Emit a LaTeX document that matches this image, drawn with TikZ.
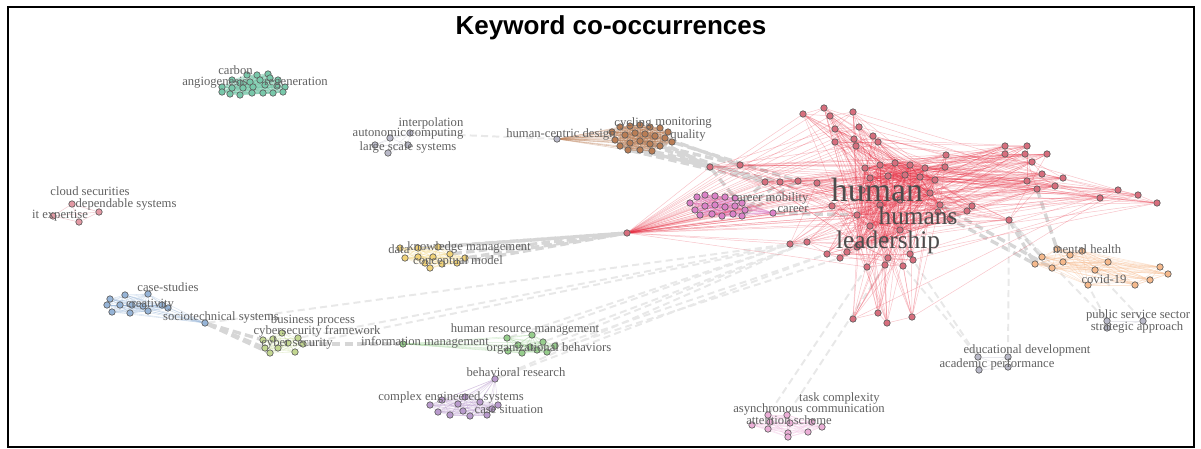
\documentclass[tikz,border=0pt]{standalone}
\usepackage{fontspec}
\setmainfont{Liberation Serif}
\newfontfamily\titlefont{Liberation Sans}
\usetikzlibrary{positioning}
\pgfdeclarelayer{background}
\pgfsetlayers{background,main}

\definecolor{tealfill}{RGB}{120,200,170}
\definecolor{brownfill}{RGB}{185,125,85}
\definecolor{pinkfill}{RGB}{220,130,200}
\definecolor{yellowfill}{RGB}{240,210,120}
\definecolor{bluefill}{RGB}{150,180,215}
\definecolor{limefill}{RGB}{195,215,145}
\definecolor{greenfill}{RGB}{150,205,140}
\definecolor{purplefill}{RGB}{185,155,205}
\definecolor{rosefill}{RGB}{235,175,215}
\definecolor{orangefill}{RGB}{245,185,140}
\definecolor{grayfill}{RGB}{185,185,200}
\definecolor{redfill}{RGB}{215,110,125}
\definecolor{rededge}{RGB}{228,40,60}

\begin{document}
\begin{tikzpicture}[x=0.025cm, y=-0.025cm,
    kw/.style={draw=black!65, circle, line width=0.45pt, inner sep=0pt, minimum size=4.6pt, fill=#1},
    lbl/.style={inner sep=0pt, text=black!62, font=\fontsize{9}{10}\selectfont},
    biglbl/.style={inner sep=0pt, text=black!70, font=\fontsize{#1}{#1}\selectfont},
    cedge/.style={draw=#1, line width=0.4pt, opacity=0.35},
    redge/.style={draw=rededge, line width=0.35pt, opacity=0.28},
    bundle/.style={draw=black!16, line width=2.4pt, dash pattern=on 6pt off 3pt},
    faint/.style={draw=black!9, line width=1.4pt, dash pattern=on 5pt off 3pt}]
    \useasboundingbox (0,0) rectangle (1201,448);
    \draw[line width=1pt] (8,7) rectangle (1194,447);
    \node[font=\titlefont\bfseries\fontsize{18.5}{20}\selectfont] (title) at (611,28) {Keyword co-occurrences};

    % teal cluster
    \foreach \x/\y [count=\i] in {247/75,257/75,268/74,232/80,240/83,250/82,260/80,270/78,278/80,222/87,232/88,243/88,253/87,265/85,277/86,285/87,222/92,230/94,240/95,252/93,263/93,273/93,283/92}
        \node[kw=tealfill] (te\i) at (\x,\y) {};
    \node[lbl, anchor=west] (l-carbon) at (218,70) {carbon};
    \node[lbl, anchor=west] (l-angio) at (182,83) {angiogenesis};
    \node[lbl, anchor=east] (l-regen) at (328,83) {regeneration};

    % small gray cluster
    \foreach \x/\y [count=\i] in {390/138,410/133,375/145,408/145,388/153}
        \node[kw=grayfill] (gs\i) at (\x,\y) {};
    \node[lbl] (l-interp) at (431,123) {interpolation};
    \node[lbl] (l-autonom) at (408,134) {autonomic computing};
    \node[lbl] (l-large) at (408,147) {large scale systems};

    % brown cluster
    \node[kw=grayfill] (brlead) at (557,139) {};
    \foreach \x/\y [count=\i] in {612/132,620/127,630/126,640/125,650/127,660/128,668/132,615/140,625/135,635/133,645/134,655/136,665/138,672/142,620/146,630/143,640/141,650/144,660/146,628/150,640/150,652/151}
        \node[kw=brownfill] (br\i) at (\x,\y) {};
    \node[lbl, anchor=west] (l-hcd) at (506,134) {human-centric design};
    \node[lbl] (l-cycling) at (633,123) {cycling};
    \node[lbl, anchor=east] (l-monit) at (712,123) {monitoring};
    \node[lbl] (l-quality) at (688,135) {quality};

    % small red cluster
    \foreach \x/\y [count=\i] in {72/204,53/216,99/212,79/222}
        \node[kw=redfill!70] (sr\i) at (\x,\y) {};
    \node[lbl] (l-cloud) at (90,191) {cloud securities};
    \node[lbl] (l-depend) at (126,204) {dependable systems};
    \node[lbl] (l-itexp) at (60,216) {it expertise};

    % yellow cluster
    \foreach \x/\y [count=\i] in {400/248,418/248,438/247,405/258,418/257,433/257,450/254,465/258,425/263,442/264,430/268,457/263}
        \node[kw=yellowfill] (ye\i) at (\x,\y) {};
    \node[lbl, anchor=west] (l-data) at (388,249) {data};
    \node[lbl, anchor=east] (l-datamg) at (531,247) {knowledge management};
    \node[lbl] (l-concept) at (458,261) {conceptual model};

    % pink cluster
    \foreach \x/\y [count=\i] in {690/203,697/197,705/195,715/196,725/197,735/198,742/203,695/210,705/206,715/205,725/207,735/206,745/210,700/215,712/214,722/216,733/214,742/216}
        \node[kw=pinkfill] (pk\i) at (\x,\y) {};
    \node[kw=pinkfill] (pklead) at (773,213) {};
    \node[lbl] (l-mobil) at (770,198) {career mobility};
    \node[lbl] (l-career) at (793,210) {career};

    % blue cluster
    \foreach \x/\y [count=\i] in {110/299,125/295,148/294,107/305,120/305,132/305,143/306,162/305,168/308,112/312,130/313,148/311}
        \node[kw=bluefill] (bl\i) at (\x,\y) {};
    \node[kw=bluefill] (bllead) at (205,323) {};
    \node[lbl] (l-case) at (168,287) {case-studies};
    \node[lbl] (l-creat) at (150,305) {creativity};
    \node[lbl] (l-socio) at (221,317) {sociotechnical systems};

    % lime cluster
    \foreach \x/\y [count=\i] in {282/333,263/340,273/339,298/338,303/344,265/348,278/348,295/352,270/353,288/343}
        \node[kw=limefill] (li\i) at (\x,\y) {};
    \node[lbl] (l-busi) at (313,320) {business process};
    \node[lbl] (l-cyfw) at (317,331) {cybersecurity framework};
    \node[lbl] (l-cyber) at (297,343) {cyber security};

    % green cluster
    \node[kw=greenfill] (grlead) at (403,344) {};
    \foreach \x/\y [count=\i] in {507/338,532/335,543/342,518/345,530/347,555/346,508/351,547/352,522/353,537/350}
        \node[kw=greenfill] (gr\i) at (\x,\y) {};
    \node[lbl] (l-info) at (425,342) {information management};
    \node[lbl] (l-hrm) at (525,329) {human resource management};
    \node[lbl] (l-org) at (549,348) {organizational behaviors};

    % purple cluster
    \node[kw=purplefill] (pulead) at (495,379) {};
    \foreach \x/\y [count=\i] in {442/400,465/397,480/402,430/405,458/404,498/405,438/412,463/411,492/409,450/415,470/416,487/415}
        \node[kw=purplefill] (pu\i) at (\x,\y) {};
    \node[lbl] (l-behav) at (516,372) {behavioral research};
    \node[lbl] (l-complex) at (451,397) {complex engineered systems};
    \node[lbl] (l-casesit) at (509,409) {case situation};

    % rose cluster
    \foreach \x/\y [count=\i] in {768/415,787/415,752/425,770/422,790/423,812/422,822/427,768/429,788/433,808/432,788/437}
        \node[kw=rosefill] (ro\i) at (\x,\y) {};
    \node[lbl, anchor=east] (l-taskc) at (880,398) {task complexity};
    \node[lbl, anchor=west] (l-async) at (733,409) {asynchronous communication};
    \node[lbl] (l-attn) at (789,420) {attention scheme};

    % gray clusters, lower right
    \foreach \x/\y [count=\i] in {978/357,1008/357,1008/367,979/370}
        \node[kw=grayfill] (ed\i) at (\x,\y) {};
    \node[lbl] (l-edu) at (1027,350) {educational development};
    \node[lbl] (l-acad) at (997,364) {academic performance};
    \foreach \x/\y [count=\i] in {1107/321,1143/321,1107/328}
        \node[kw=grayfill] (sv\i) at (\x,\y) {};
    \node[lbl] (l-public) at (1138,315) {public service sector};
    \node[lbl] (l-strat) at (1137,327) {strategic approach};

    % orange cluster
    \foreach \x/\y [count=\i] in {1057/249,1070/255,1082/251,1042/257,1035/264,1052/268,1063/262,1108/262,1095/270,1088/285,1135/285,1150/280,1160/267,1168/274}
        \node[kw=orangefill] (or\i) at (\x,\y) {};
    \node[lbl] (l-mental) at (1087,249) {mental health};
    \node[lbl] (l-covid) at (1104,279) {covid-19};

    % red cluster
    \foreach \x/\y [count=\i] in {865/168,880/165,895/163,910/165,925/168,870/178,888/176,905/175,920/177,935/180,862/190,900/200,930/193,857/215,870/226,885/240,860/245,900/230,940/205,880/205}
        \node[kw=redfill] (rc\i) at (\x,\y) {};
    \foreach \x/\y [count=\i] in {824/108,803/114,830/116,853/112,835/129,859/127,873/136,878/142,835/142,854/139,856/146,710/167,740/165,946/155,945/167,1005/146,1027/146,1005/154,1025/154,1047/154,1032/162,1042/174,1063/178,1027/181,1055/186,1037/189,1009/220,765/182,780/182,798/181,817/183,972/206,967/211,938/212,950/219,832/206,627/233,790/244,807/242,827/254,840/258,847/252,857/247,867/267,885/265,903/266,910/254,913/260,888/258,853/319,878/313,887/323,912/317,1118/190,1138/195,1157/203,1100/198}
        \node[kw=redfill] (rp\i) at (\x,\y) {};
    \node[biglbl=24] (l-human) at (877,190) {human};
    \node[biglbl=18] (l-humans) at (918,216) {humans};
    \node[biglbl=18] (l-leader) at (888,242) {leadership};

    \begin{pgfonlayer}{background}
    % links between clusters
    \foreach \a/\b in {br15/rp12,br18/rp12,br20/rp28,br22/rp29,br13/rp13,br14/rp30,br19/rp28,br21/rp12,br17/rp13,br11/rp12}
        \draw[bundle] (\a) -- (\b);
    \draw[faint] (gs2) -- (brlead);
    \foreach \a/\b in {ye3/rp37,ye7/rp37,ye8/rp37,ye12/rp37,ye2/rp37}
        \draw[bundle] (\a) -- (\b);
    \foreach \a/\b in {pk7/rp28,pk13/rp29,pk6/rp12,pk18/rp30,pklead/rc14}
        \draw[bundle] (\a) -- (\b);
    \foreach \a/\b in {gr2/rp38,gr3/rp39,gr6/rp40,gr8/rp41,gr1/rp38,gr10/rp39,li4/rp38,li5/rp39,bllead/rp38,pulead/rp40,pulead/rp39}
        \draw[faint] (\a) -- (\b);
    \foreach \a/\b in {bllead/li2,bllead/li6,bllead/li9}
        \draw[bundle] (\a) -- (\b);
    \draw[bundle] (li5) -- (grlead);
    \foreach \a/\b in {or4/rp27,or5/rp35,or6/rc19,or1/rp26,or5/rp27}
        \draw[bundle] (\a) -- (\b);
    \foreach \a/\b in {ed1/rp46,ed2/rp27,ed1/rp48,sv1/rp27,sv1/or10,sv2/or9,ro1/rp44,ro2/rp45}
        \draw[faint] (\a) -- (\b);

    % edges inside clusters
    \foreach \i in {1,...,23}{\foreach \j in {\i,...,23}{\draw[cedge=tealfill] (te\i) -- (te\j);}}
    \foreach \i in {1,...,5}{\foreach \j in {\i,...,5}{\draw[cedge=grayfill] (gs\i) -- (gs\j);}}
    \foreach \i in {1,...,22}{\foreach \j in {\i,...,22}{\draw[cedge=brownfill] (br\i) -- (br\j);}
        \draw[cedge=brownfill] (brlead) -- (br\i);}
    \foreach \i in {1,...,4}{\foreach \j in {\i,...,4}{\draw[cedge=redfill] (sr\i) -- (sr\j);}}
    \foreach \i in {1,...,12}{\foreach \j in {\i,...,12}{\draw[cedge=yellowfill] (ye\i) -- (ye\j);}}
    \foreach \i in {1,...,18}{\foreach \j in {\i,...,18}{\draw[cedge=pinkfill] (pk\i) -- (pk\j);}
        \draw[cedge=pinkfill] (pklead) -- (pk\i);}
    \foreach \i in {1,...,12}{\foreach \j in {\i,...,12}{\draw[cedge=bluefill] (bl\i) -- (bl\j);}
        \draw[cedge=bluefill] (bllead) -- (bl\i);}
    \foreach \i in {1,...,10}{\foreach \j in {\i,...,10}{\draw[cedge=limefill] (li\i) -- (li\j);}}
    \foreach \i in {1,...,10}{\foreach \j in {\i,...,10}{\draw[cedge=greenfill] (gr\i) -- (gr\j);}
        \draw[cedge=greenfill] (grlead) -- (gr\i);}
    \foreach \i in {1,...,12}{\foreach \j in {\i,...,12}{\draw[cedge=purplefill] (pu\i) -- (pu\j);}
        \draw[cedge=purplefill] (pulead) -- (pu\i);}
    \foreach \i in {1,...,11}{\foreach \j in {\i,...,11}{\draw[cedge=rosefill] (ro\i) -- (ro\j);}}
    \foreach \i in {1,...,4}{\foreach \j in {\i,...,4}{\draw[cedge=grayfill] (ed\i) -- (ed\j);}}
    \foreach \i in {1,...,3}{\foreach \j in {\i,...,3}{\draw[cedge=grayfill] (sv\i) -- (sv\j);}}
    \foreach \i in {1,...,14}{\foreach \j in {\i,...,14}{\draw[cedge=orangefill] (or\i) -- (or\j);}}

    % red cluster edges
    \foreach \i in {1,...,20}{\foreach \j in {\i,...,20}{\draw[redge] (rc\i) -- (rc\j);}}
    \foreach \i in {1,...,57}{
        \foreach \j in {1,...,20}{
            \pgfmathtruncatemacro\k{mod(\i+\j,3)}
            \ifnum\k=0 \draw[redge] (rp\i) -- (rc\j); \fi
        }
        \pgfmathtruncatemacro\n{mod(\i,57)+1}
        \pgfmathtruncatemacro\m{mod(\i+6,57)+1}
        \draw[redge] (rp\i) -- (rp\n);
        \draw[redge] (rp\i) -- (rp\m);
    }
    \foreach \j in {1,...,36}{\draw[redge] (rp37) -- (rp\j);}
    \end{pgfonlayer}
\end{tikzpicture}
\end{document}
